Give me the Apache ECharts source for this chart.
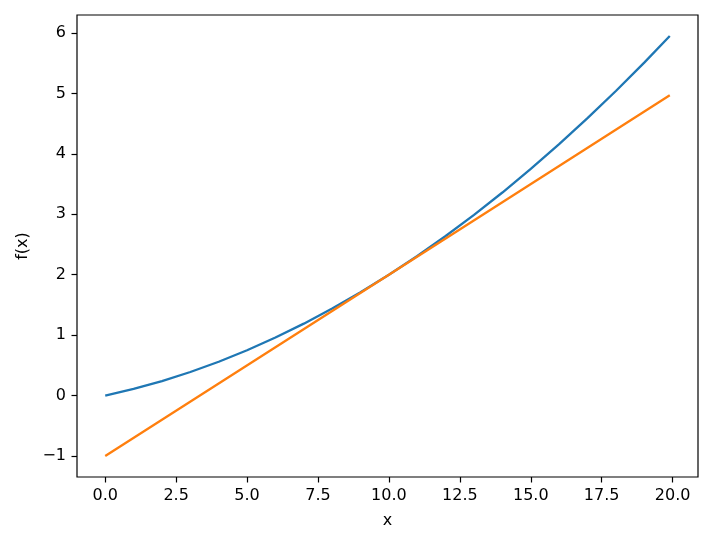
<!DOCTYPE html>
<html>
<head>
<meta charset="utf-8">
<script src="https://cdn.jsdelivr.net/npm/echarts@6/dist/echarts.min.js"></script>
<style>
  html, body { margin: 0; padding: 0; background: #fff; }
  #main { width: 721px; height: 539px; }
</style>
</head>
<body>
<div id="main"></div>
<script>
// 曲线上读取的点
var curveX = [0, 1, 2, 3, 4, 5, 6, 7, 8, 9, 10, 11, 12, 13, 14, 15, 16, 17, 18, 19, 19.9];
var curveY = [0, 0.11, 0.24, 0.39, 0.56, 0.75, 0.96, 1.19, 1.44, 1.71, 2.0, 2.31, 2.64, 2.99, 3.36, 3.75, 4.16, 4.59, 5.04, 5.51, 5.95];
// 切线两端
var tangentX = [0, 10, 19.9];
var tangentY = [-1, 2, 4.97];
// 刻度
var xTicks = [0, 2.5, 5, 7.5, 10, 12.5, 15, 17.5, 20];
var yTicks = [-1, 0, 1, 2, 3, 4, 5, 6];

function pairs(xs, ys) {
    var out = [];
    for (var i = 0; i < xs.length; i++) out.push([xs[i], ys[i]]);
    return out;
}

var chart = echarts.init(document.getElementById('main'), null, { renderer: 'canvas' });
var font = 'DejaVu Sans';
var option = {
    animation: false,
    backgroundColor: '#fff',
    grid: {
        left: 77, right: 23, top: 15, bottom: 62,
        show: true, borderColor: '#000', borderWidth: 1.2,
        containLabel: false
    },
    // x轴
    xAxis: {
        type: 'value',
        min: -0.995, max: 20.895,
        name: 'x',
        nameLocation: 'middle',
        nameGap: 36,
        nameTextStyle: { color: '#000', fontSize: 16, fontFamily: font },
        axisLine: { show: false, onZero: false },
        splitLine: { show: false },
        axisTick: { show: true, customValues: xTicks, length: 5.5, lineStyle: { color: '#000', width: 1.2 } },
        axisLabel: {
            customValues: xTicks, margin: 11, color: '#000', fontSize: 16, fontFamily: font,
            formatter: function (v) { return v.toFixed(1); }
        }
    },
    // y轴
    yAxis: {
        type: 'value',
        min: -1.3475, max: 6.2976,
        name: 'f(x)',
        nameLocation: 'middle',
        nameGap: 46,
        nameRotate: 90,
        nameTextStyle: { color: '#000', fontSize: 16, fontFamily: font },
        axisLine: { show: false, onZero: false },
        splitLine: { show: false },
        axisTick: { show: true, customValues: yTicks, length: 5.5, lineStyle: { color: '#000', width: 1.2 } },
        axisLabel: {
            customValues: yTicks, margin: 11, color: '#000', fontSize: 16, fontFamily: font,
            formatter: function (v) { return String(v).replace('-', '\u2212'); }
        }
    },
    series: [{
        type: 'line',
        data: pairs(curveX, curveY),
        showSymbol: false,
        lineStyle: { color: '#1f77b4', width: 2.3 },
        itemStyle: { color: '#1f77b4' }
    }, {
        type: 'line',
        data: pairs(tangentX, tangentY),
        showSymbol: false,
        lineStyle: { color: '#ff7f0e', width: 2.3 },
        itemStyle: { color: '#ff7f0e' }
    }]
};
chart.setOption(option);
</script>
</body>
</html>
